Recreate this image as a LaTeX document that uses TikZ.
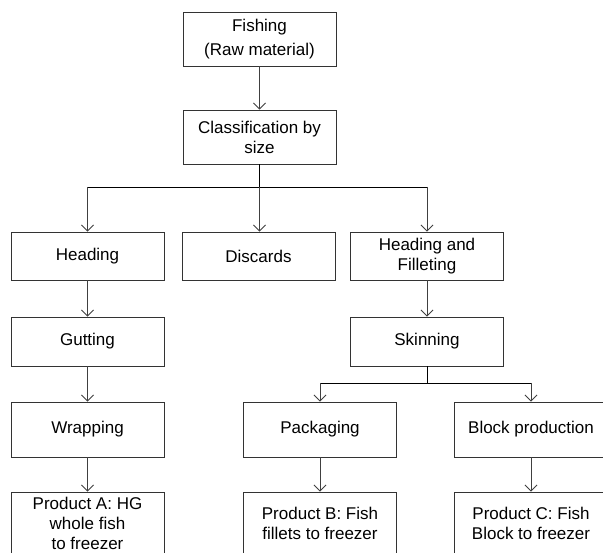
\documentclass[tikz,border=0pt]{standalone}
\usepackage{fontspec}
\setmainfont{Liberation Sans}
\usetikzlibrary{arrows.meta}
\begin{document}
\begin{tikzpicture}[x=1pt,y=-1pt,
  box/.style={draw=black!80,line width=0.9pt,minimum width=153pt,inner sep=0pt,
    align=center,font=\fontsize{17}{20}\selectfont},
  arr/.style={draw=black!75,line width=0.8pt,-{Straight Barb[length=6pt,width=12pt,line width=0.8pt]}},
  ln/.style={draw=black,line width=0.9pt}]
\clip (0,0) rectangle (603,553);
\fill[white] (0,0) rectangle (603,553);
\node[box,minimum height=54pt] (fish) at (259.5,39) {Fishing\\[4pt](Raw material)};
\node[box,minimum height=54pt] (class) at (259.5,137) {Classification by\\size};
\node[box,minimum height=48pt] (head) at (87.5,256) {Heading};
\node[box,minimum height=48pt] (disc) at (258.5,256) {Discards};
\node[box,minimum height=48pt] (hf) at (427,256) {Heading and\\Filleting};
\node[box,minimum height=49pt] (gut) at (87.5,341.5) {Gutting};
\node[box,minimum height=49pt] (skin) at (427,341.5) {Skinning};
\node[box,minimum height=55pt] (wrap) at (87.5,429.5) {Wrapping};
\node[box,minimum height=55pt] (pack) at (320,429.5) {Packaging};
\node[box,minimum height=55pt] (block) at (531,429.5) {Block production};
\node[box,minimum height=62pt] (pa) at (87.5,523) {Product A: HG\\whole fish\\to freezer};
\node[box,minimum height=62pt] (pb) at (320,523) {Product B: Fish\\fillets to freezer};
\node[box,minimum height=62pt] (pc) at (531,523) {Product C: Fish\\Block to freezer};
\coordinate (b1) at (0,187);
\coordinate (b2) at (0,383);
\draw[arr] (fish) -- (class);
\draw[ln] (class.south) -- (class.south |- b1);
\draw[ln] (head.north |- b1) -- (hf.north |- b1);
\draw[arr] (head.north |- b1) -- (head.north);
\draw[arr] (class.south |- b1) -- (disc.north -| class.south);
\draw[arr] (hf.north |- b1) -- (hf.north);
\draw[arr] (head) -- (gut);
\draw[arr] (gut) -- (wrap);
\draw[arr] (wrap) -- (pa);
\draw[arr] (hf) -- (skin);
\draw[ln] (skin.south) -- (skin.south |- b2);
\draw[ln] (pack.north |- b2) -- (block.north |- b2);
\draw[arr] (pack.north |- b2) -- (pack.north);
\draw[arr] (block.north |- b2) -- (block.north);
\draw[arr] (pack) -- (pb);
\draw[arr] (block) -- (pc);
\end{tikzpicture}
\end{document}
